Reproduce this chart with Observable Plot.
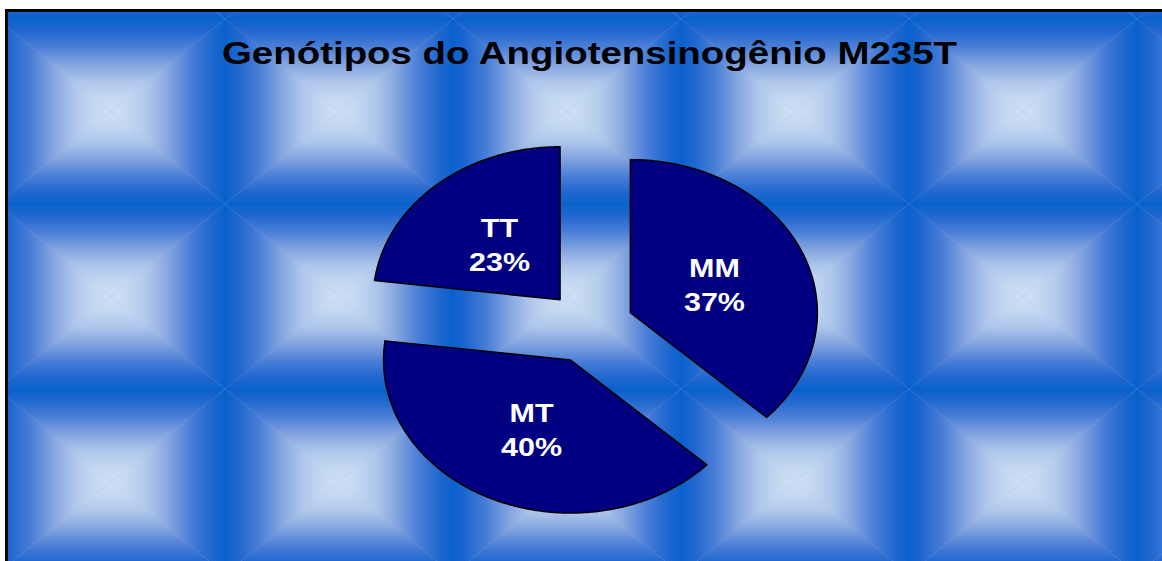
<!DOCTYPE html>
<html>
<head>
<meta charset="utf-8">
<script src="https://cdn.jsdelivr.net/npm/d3@7"></script>
<script src="https://cdn.jsdelivr.net/npm/@observablehq/plot@0.6"></script>
<style>
  body { margin: 0; background: #fff; }
  #chart svg { display: block; }
</style>
</head>
<body>
<div id="chart"></div>
<script>
// ---- data ----
const title = "Genótipos do Angiotensinogênio M235T";
const genotypes = ["MM", "MT", "TT"];
const percents = [37, 40, 23];

// ---- layout constants (styling only) ----
const explode = 0.238;      // slice offset, in radius units
const labelRadius = 0.49;   // label distance from slice apex, in radius units
const W = 1162, H = 561;

const pie = d3.pie().sort(null).value(d => d.value);
const arcs = pie(genotypes.map((g, i) => ({genotype: g, value: percents[i]})));

const slicePoints = [];
const labelPoints = [];
arcs.forEach(a => {
  const mid = (a.startAngle + a.endAngle) / 2;
  const ox = explode * Math.sin(mid), oy = explode * Math.cos(mid);
  const g = a.data.genotype;
  slicePoints.push({g, x: ox, y: oy});
  const n = Math.ceil((a.endAngle - a.startAngle) / (Math.PI / 360));
  for (let k = 0; k <= n; k++) {
    const t = a.startAngle + (a.endAngle - a.startAngle) * k / n;
    slicePoints.push({g, x: ox + Math.sin(t), y: oy + Math.cos(t)});
  }
  slicePoints.push({g, x: ox, y: oy});
  const r = explode + labelRadius;
  labelPoints.push({text: `${g}\n${a.data.value}%`, x: r * Math.sin(mid), y: r * Math.cos(mid)});
});

// ---- tiled "pillow" background + frame ----
function background(index, scales, values, dims) {
  const w = dims.width, h = dims.height;
  const g = d3.create("svg:g");
  const defs = g.append("defs");
  const stops = [
    [0, "#0a61cc"], [0.12, "#1f67cf"], [0.3, "#4a7ed7"], [0.5, "#86a6e0"],
    [0.68, "#afc7eb"], [0.85, "#c4d8f1"], [1, "#cde0f5"]
  ];
  const dirs = {top: [0, 0, 0, 1], bottom: [0, 1, 0, 0], left: [0, 0, 1, 0], right: [1, 0, 0, 0]};
  for (const [k, [x1, y1, x2, y2]] of Object.entries(dirs)) {
    const lg = defs.append("linearGradient").attr("id", "bg-" + k)
      .attr("x1", x1).attr("y1", y1).attr("x2", x2).attr("y2", y2);
    stops.forEach(([o, c]) => lg.append("stop").attr("offset", o).attr("stop-color", c));
  }
  const tw = 228, th = 185;
  const pat = defs.append("pattern").attr("id", "bg-tile")
    .attr("patternUnits", "userSpaceOnUse")
    .attr("x", -3).attr("y", 19).attr("width", tw).attr("height", th);
  pat.append("rect").attr("width", tw).attr("height", th).attr("fill", "#8aa9e0");
  const cx = tw / 2, cy = th / 2;
  const tris = {
    top: [[0, 0], [tw, 0], [cx, cy]],
    bottom: [[0, th], [tw, th], [cx, cy]],
    left: [[0, 0], [0, th], [cx, cy]],
    right: [[tw, 0], [tw, th], [cx, cy]]
  };
  for (const [k, pts] of Object.entries(tris)) {
    pat.append("polygon").attr("points", pts.map(p => p.join(",")).join(" "))
      .attr("fill", `url(#bg-${k})`);
  }
  g.append("rect").attr("x", 8).attr("y", 12).attr("width", w - 8).attr("height", h - 12)
    .attr("fill", "url(#bg-tile)");
  g.append("path").attr("d", `M6.5,${h}V10.5H${w}`)
    .attr("fill", "none").attr("stroke", "#000").attr("stroke-width", 3);
  return g.node();
}

const font = "'Liberation Sans', Arial, Helvetica, sans-serif";

const chart = Plot.plot({
  width: W,
  height: H,
  marginLeft: 402,
  marginRight: 386,
  marginTop: 173.6,
  marginBottom: 81.4,
  style: {fontFamily: font, background: "white"},
  x: {domain: [-1, 1], axis: null},
  y: {domain: [-1, 1], axis: null},
  marks: [
    background,
    Plot.line(slicePoints, {
      x: "x", y: "y", z: "g",
      fill: "#000080", stroke: "#000", strokeWidth: 1.5, curve: "linear"
    }),
    Plot.text(labelPoints, {
      x: "x", y: "y", text: "text",
      fill: "white", fontSize: 25, fontWeight: "bold",
      lineHeight: 1.36, lineAnchor: "middle", textAnchor: "middle",
      className: "slice-labels"
    }),
    Plot.text([title], {
      text: d => d, frameAnchor: "top", dy: -110.6, lineAnchor: "bottom",
      fontSize: 31, fontWeight: "bold", fill: "black",
      className: "chart-title"
    })
  ]
});

document.getElementById("chart").append(chart);

// horizontal stretch of text, as in the reference image
function stretch(sel, s) {
  chart.querySelectorAll(sel).forEach(t => {
    const b = t.getBBox();
    const c = b.x + b.width / 2;
    const tr = t.getAttribute("transform") || "";
    t.setAttribute("transform", `${tr} translate(${c},0) scale(${s},1) translate(${-c},0)`.trim());
  });
}
stretch('.chart-title text', 1.24);
stretch('.slice-labels text', 1.22);
</script>
</body>
</html>
